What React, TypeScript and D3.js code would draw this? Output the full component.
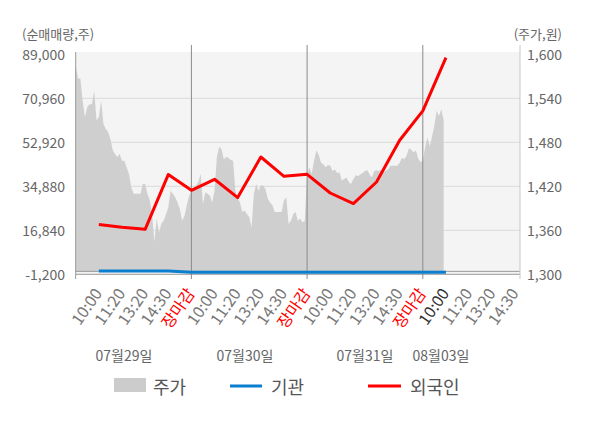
import * as d3 from "d3";

// Trading days and the intraday labels under each one
const dayNames = ["07월29일", "07월30일", "07월31일", "08월03일"];
const sessionLabels = ["10:00", "11:20", "13:20", "14:30", "장마감"];
const lastDaySessionLabels = ["10:00", "11:20", "13:20", "14:30"];

const volumeTicks = [-1200, 16840, 34880, 52920, 70960, 89000];
const priceTicks = [1300, 1360, 1420, 1480, 1540, 1600];

// Net buying (shares), one point per session label
const foreignNet = [
  19180, 18070, 17250, 39680, 33240, 37750, 30250, 46890, 38980, 39800, 32130, 27790, 36640, 53740,
  65830, 87650
];
const institutionNet = [150, 150, 150, 150, -400, -400, -400, -400, -400, -400, -400, -400, -400, -400, -400, -400];

// Intraday price (won), 50 samples per full day
const priceDay1 = [
  1585, 1567, 1567, 1537, 1514, 1528, 1532, 1532, 1550, 1510, 1514, 1537, 1505, 1498, 1494, 1485, 1469,
  1464, 1460, 1464, 1455, 1455, 1446, 1437, 1419, 1410, 1410, 1410, 1410, 1423, 1423, 1410, 1401, 1382,
  1344, 1376, 1357, 1369, 1373, 1382, 1391, 1414, 1410, 1405, 1398, 1389, 1373, 1380, 1394, 1407
];
const priceDay2 = [
  1414, 1419, 1421, 1426, 1437, 1396, 1412, 1410, 1407, 1398, 1414, 1460, 1474, 1471, 1457, 1460, 1459,
  1456, 1455, 1414, 1403, 1398, 1385, 1387, 1382, 1378, 1364, 1410, 1423, 1414, 1421, 1421, 1416, 1403,
  1398, 1394, 1385, 1385, 1385, 1385, 1401, 1405, 1369, 1373, 1382, 1385, 1373, 1376, 1371, 1373
];
const priceDay3 = [
  1437, 1446, 1437, 1455, 1469, 1463, 1452, 1450, 1446, 1449, 1448, 1441, 1443, 1438, 1439, 1428, 1430,
  1432, 1426, 1423, 1430, 1435, 1434, 1436, 1438, 1441, 1442, 1436, 1432, 1441, 1442, 1441, 1443, 1440,
  1441, 1443, 1448, 1448, 1448, 1448, 1452, 1459, 1457, 1462, 1472, 1470, 1466, 1469, 1458, 1453
];
const priceDay4 = [1455, 1473, 1487, 1474, 1488, 1503, 1523, 1516, 1525, 1510];

const font = "'Noto Sans CJK KR', 'Noto Sans', sans-serif";

export default function App() {
  const width = 600;
  const height = 428;
  const left = 75.7;
  const right = 520;
  const top = 54.3;
  const bottom = 274.3;
  const slotsPerDay = 5;
  const samplesPerDay = 50;

  const x = d3.scaleLinear([0, 19.2], [left, right]);
  const yVol = d3.scaleLinear([-1200, 89000], [bottom, top]);
  const yPrice = d3.scaleLinear([1300, 1600], [bottom, top]);

  const prices = [...priceDay1, ...priceDay2, ...priceDay3, ...priceDay4].map((p, j) => ({
    k: (j / samplesPerDay) * slotsPerDay,
    p
  }));
  const area = d3
    .area<(typeof prices)[number]>()
    .x((d) => x(d.k))
    .y0(yVol(0))
    .y1((d) => yPrice(d.p));

  const netLine = d3
    .line<number>()
    .x((_, i) => x(i + 1))
    .y((v) => yVol(v));

  const tickLabels = dayNames.flatMap((_, d) =>
    (d === dayNames.length - 1 ? lastDaySessionLabels : sessionLabels).map((label, i) => ({
      label,
      k: d * slotsPerDay + i + 1
    }))
  );
  const currentSlot = 16;
  const dividers = d3.range(1, dayNames.length).map((d) => d * slotsPerDay);
  const dateLabelX = [124, 245, 365, 441];

  return (
    <div style={{ position: "absolute", left: 0, top: 0, background: "#fff" }}>
      <svg width={width} height={height} viewBox={`0 0 ${width} ${height}`} style={{ display: "block", fontFamily: font }}>
        <rect x={left} y={52} width={right - left} height={bottom - 52} fill="#f4f4f4" />
        {volumeTicks.slice(1, -1).map((t) => (
          <line key={t} x1={left} x2={right} y1={yVol(t)} y2={yVol(t)} stroke="#dadada" strokeWidth={1} />
        ))}
        <path d={area(prices) ?? undefined} fill="#cfcfcf" />
        <line x1={left} x2={right} y1={yVol(0)} y2={yVol(0)} stroke="#999" strokeWidth={1} />
        <line x1={left} x2={right} y1={bottom} y2={bottom} stroke="#999" strokeWidth={1} />
        {dividers.map((k) => (
          <line key={k} x1={x(k)} x2={x(k)} y1={45} y2={279} stroke="#8a8a8a" strokeWidth={1} />
        ))}
        <line x1={left} x2={left} y1={52} y2={279} stroke="#999" strokeWidth={1} />
        <line x1={right} x2={right} y1={45} y2={279} stroke="#c8c8c8" strokeWidth={1} />

        <path d={netLine(institutionNet) ?? undefined} fill="none" stroke="#0a7fcf" strokeWidth={3} />
        <path d={netLine(foreignNet) ?? undefined} fill="none" stroke="#ff0000" strokeWidth={3} strokeLinejoin="round" />

        <text x={22} y={33} dominantBaseline="central" fontSize={13} fill="#666">
          (순매매량,주)
        </text>
        <text x={562} y={33} dominantBaseline="central" textAnchor="end" fontSize={13} fill="#666">
          (주가,원)
        </text>
        {volumeTicks.map((t) => (
          <text key={t} x={65} y={yVol(t)} dominantBaseline="central" textAnchor="end" fontSize={14} fill="#666">
            {d3.format(",")(t).replace("−", "-")}
          </text>
        ))}
        {priceTicks.map((t) => (
          <text key={t} x={527} y={yPrice(t)} dominantBaseline="central" fontSize={14} fill="#666">
            {d3.format(",")(t)}
          </text>
        ))}

        {tickLabels.map(({ label, k }) => (
          <text
            key={k}
            transform={`translate(${x(k) + 4},${293.5}) rotate(-55)`}
            textAnchor="end"
            fontSize={16}
            fill={label === "장마감" ? "#ff0000" : k === currentSlot ? "#333" : "#777"}
          >
            {label}
          </text>
        ))}
        {dayNames.map((name, d) => (
          <text key={name} x={dateLabelX[d]} y={355} textAnchor="middle" dominantBaseline="central" fontSize={14} fill="#666">
            {name}
          </text>
        ))}

        <g fontSize={18} fill="#555">
          <rect x={114} y={378} width={32} height={14} fill="#cccccc" />
          <text x={153} y={386} dominantBaseline="central">주가</text>
          <line x1={230} x2={262} y1={386} y2={386} stroke="#0a7fcf" strokeWidth={3} />
          <text x={271} y={386} dominantBaseline="central">기관</text>
          <line x1={368} x2={401} y1={386} y2={386} stroke="#ff0000" strokeWidth={3} />
          <text x={410} y={386} dominantBaseline="central">외국인</text>
        </g>
      </svg>
    </div>
  );
}
